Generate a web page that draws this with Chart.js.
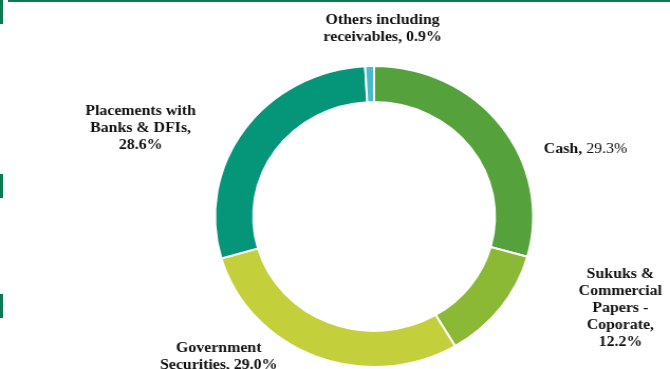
<!DOCTYPE html>
<html lang="en">

<head>
    <meta charset="UTF-8">
    <title>Asset Allocation</title>
    <script src="https://cdn.jsdelivr.net/npm/chart.js"></script>
    <style>
        body { margin: 0; background: #fff; }
        .pagina { position: relative; width: 670px; height: 369px; overflow: hidden; }
        .linhaTopo { position: absolute; left: 8px; top: 0; width: 662px; height: 2px; background: #0b7a50; }
        .marca { position: absolute; left: 0; width: 3px; height: 24px; background: #0b7a50; }
        #grafico { position: absolute; left: 0; top: 0; }
    </style>
</head>

<body>
    <div class="pagina">
        <canvas id="grafico" width="634" height="369" style="width:670px;height:369px"></canvas>
        <div class="linhaTopo"></div>
        <div class="marca" style="top:0"></div>
        <div class="marca" style="top:174px"></div>
        <div class="marca" style="top:294px"></div>
    </div>

    <script>
        // dados
        const categorias = ['Cash', 'Sukuks & Commercial Papers - Coporate', 'Government Securities',
            'Placements with Banks & DFIs', 'Others including receivables'];
        const valores = [29.3, 12.2, 29.0, 28.6, 0.9];
        const cores = ['#55a13b', '#8cb935', '#c3d03c', '#05967a', '#4bb8cc'];

        // texto dos rotulos, linha a linha (o ultimo pedaco recebe o valor)
        const linhasRotulo = [
            ['Cash,'],
            ['Sukuks &', 'Commercial', 'Papers -', 'Coporate,'],
            ['Government', 'Securities,'],
            ['Placements with', 'Banks & DFIs,'],
            ['Others including', 'receivables,']
        ];
        // valor na mesma linha ou numa linha propria
        const valorNaLinha = [true, false, true, false, true];
        // posicao do centro do bloco de texto em relacao ao centro do anel
        const posRotulo = [[200, -67], [233, 92], [-147, 140], [-221, -88], [8, -188]];

        const pluginRotulos = {
            id: 'rotulos',
            afterDraw(chart) {
                const ctx = chart.ctx;
                const arco = chart.getDatasetMeta(0).data[0];
                const cx = arco.x, cy = arco.y;
                const alturaLinha = 17;
                ctx.save();
                ctx.fillStyle = '#111';
                ctx.textBaseline = 'middle';
                for (let i = 0; i < categorias.length; i++) {
                    const pct = valores[i].toFixed(1) + '%';
                    let linhas = linhasRotulo[i].map(t => [{ t: t, b: true }]);
                    if (valorNaLinha[i]) {
                        linhas[linhas.length - 1].push({ t: ' ' + pct, b: i != 0 });
                    } else {
                        linhas.push([{ t: pct, b: true }]);
                    }
                    const x = cx + posRotulo[i][0];
                    let y = cy + posRotulo[i][1] - (linhas.length - 1) * alturaLinha / 2;
                    for (const linha of linhas) {
                        let larg = 0;
                        for (const p of linha) {
                            ctx.font = (p.b ? 'bold ' : '') + '15px "Liberation Serif"';
                            larg += ctx.measureText(p.t).width;
                        }
                        let xx = x - larg / 2;
                        ctx.textAlign = 'left';
                        for (const p of linha) {
                            ctx.font = (p.b ? 'bold ' : '') + '15px "Liberation Serif"';
                            ctx.fillText(p.t, xx, y);
                            xx += ctx.measureText(p.t).width;
                        }
                        y += alturaLinha;
                    }
                }
                ctx.restore();
            }
        };

        new Chart(document.getElementById('grafico').getContext('2d'), {
            type: 'doughnut',
            data: {
                labels: categorias,
                datasets: [{
                    data: valores,
                    backgroundColor: cores,
                    borderColor: '#ffffff',
                    borderWidth: 2
                }]
            },
            options: {
                responsive: false,
                animation: false,
                cutout: '76%',
                layout: { padding: { top: 65, bottom: 1, left: 150, right: 76 } },
                plugins: {
                    legend: { display: false },
                    tooltip: { enabled: false }
                }
            },
            plugins: [pluginRotulos]
        });
    </script>
</body>

</html>
